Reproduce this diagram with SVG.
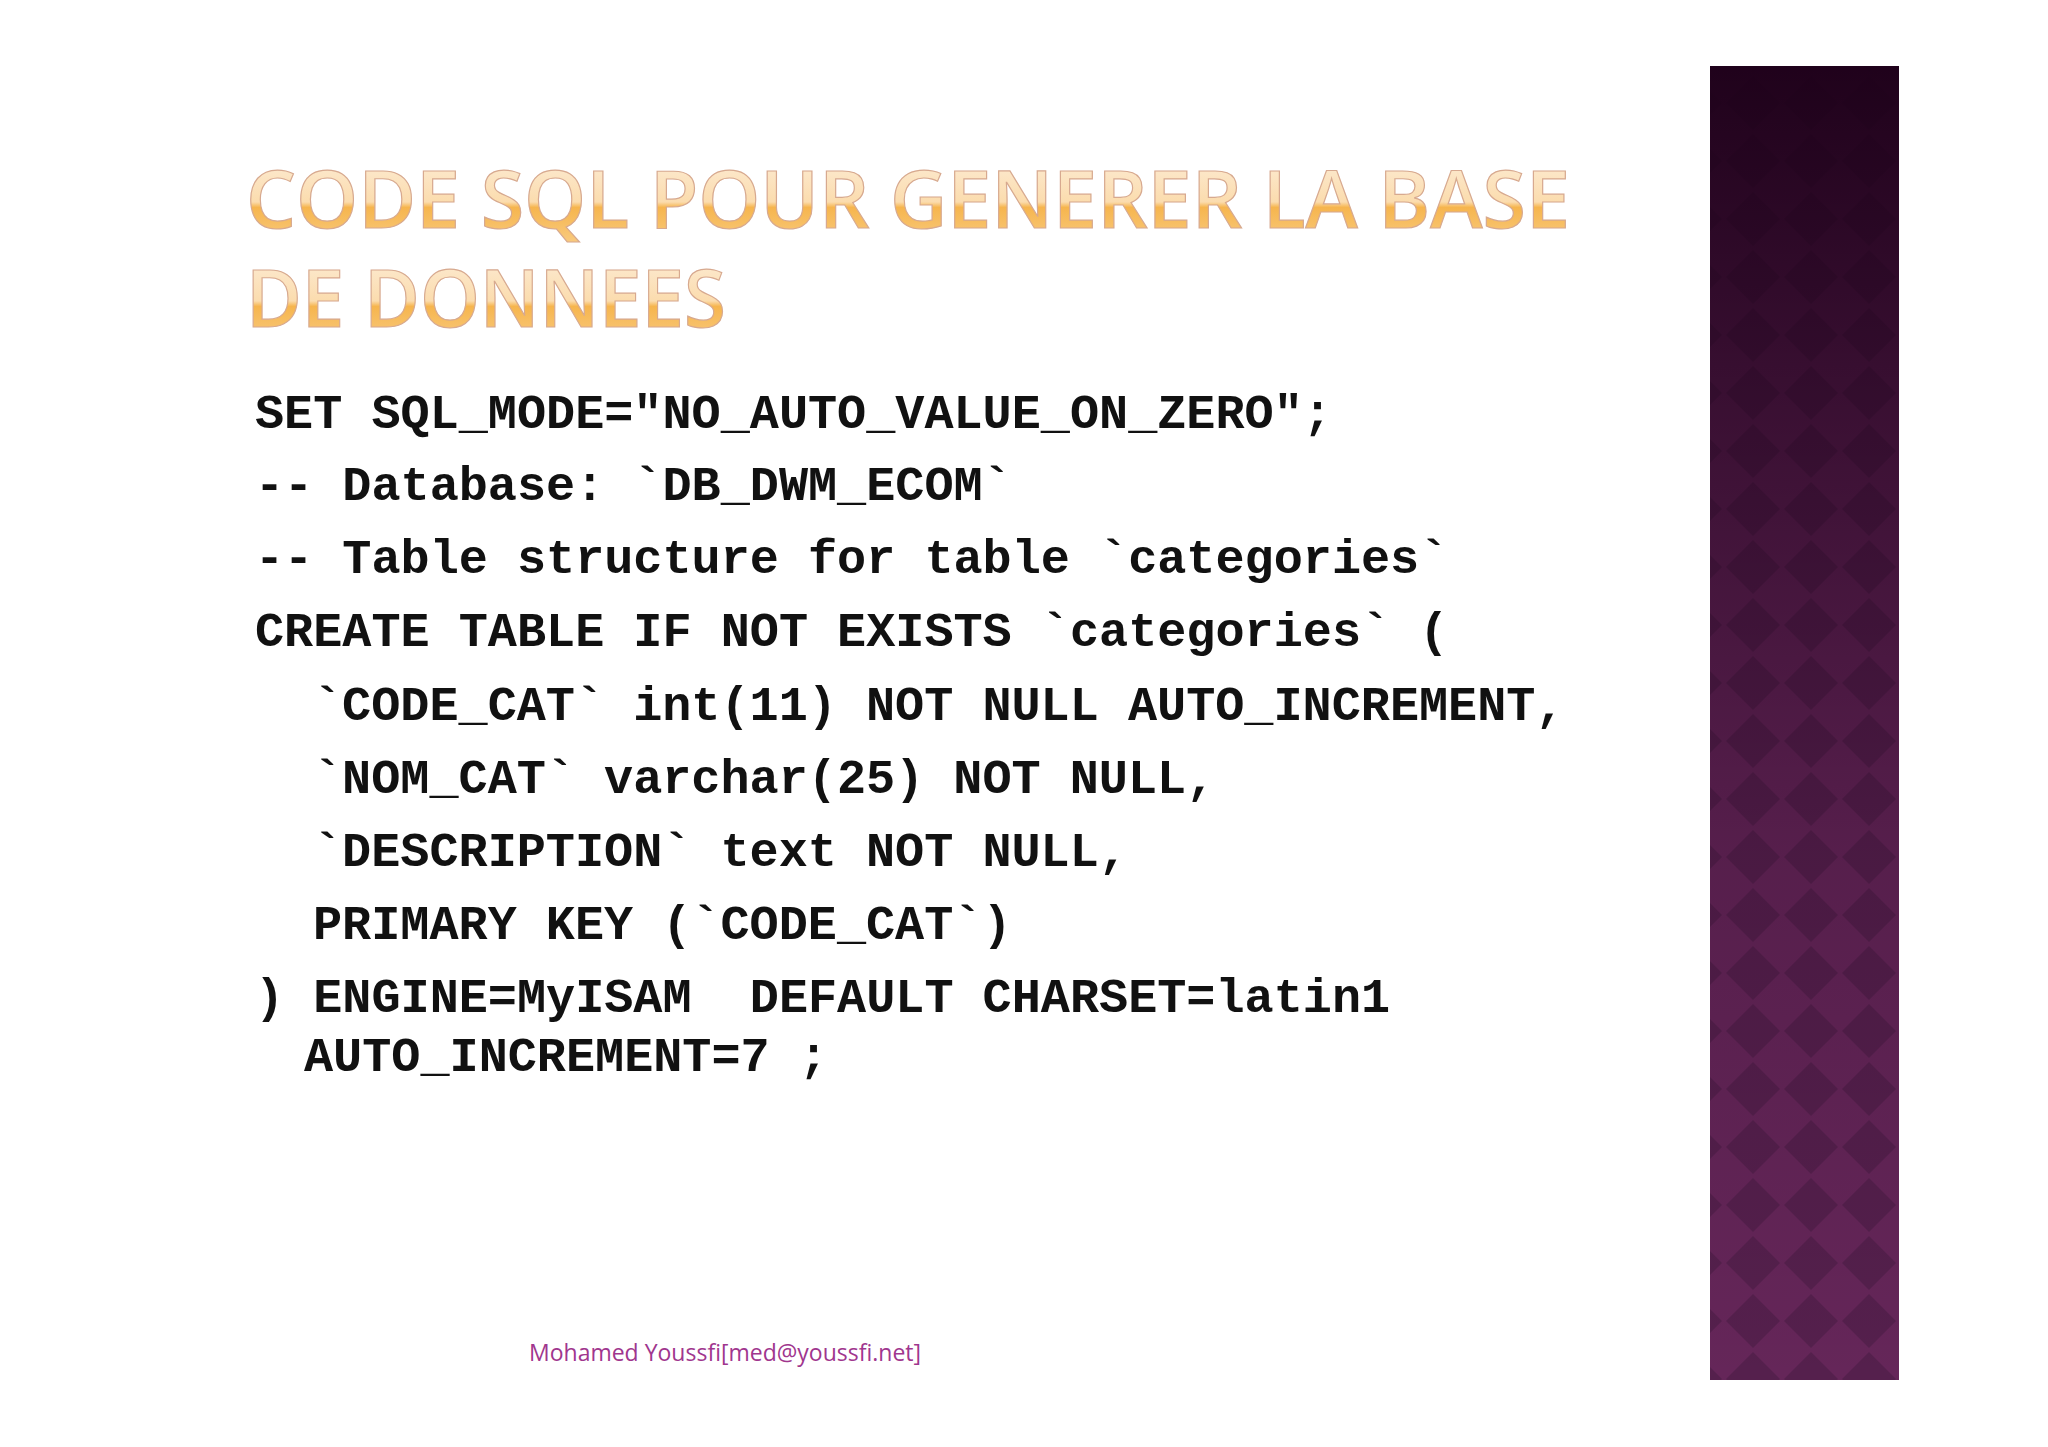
<svg xmlns="http://www.w3.org/2000/svg" width="2048" height="1447" viewBox="0 0 2048 1447">
<defs>
<linearGradient id="tg" x1="0" y1="0" x2="0" y2="1">
<stop offset="0" stop-color="#fdf0df"/><stop offset="0.55" stop-color="#fbdcae"/><stop offset="0.6" stop-color="#f6b54e"/><stop offset="1" stop-color="#f9cf8a"/>
</linearGradient>
<pattern id="dia" x="1724" y="1176" width="58" height="58" patternUnits="userSpaceOnUse">
<rect width="58" height="58" fill="#652659"/>
<polygon points="29,2 56,29 29,56 2,29" fill="#55204d"/>
</pattern>
<linearGradient id="shade" x1="0" y1="0" x2="0" y2="1">
<stop offset="0" stop-color="#1c0018" stop-opacity="0.95"/><stop offset="0.25" stop-color="#1c0018" stop-opacity="0.6"/><stop offset="0.6" stop-color="#1c0018" stop-opacity="0.2"/><stop offset="1" stop-color="#1c0018" stop-opacity="0"/>
</linearGradient>
<style>
.t{font-family:"Open Sans","Liberation Sans",sans-serif;font-weight:600;font-size:80px;fill:url(#tg);stroke:#d7a98f;stroke-width:1.2}
.c{font-family:"Liberation Mono","DejaVu Sans Mono",monospace;font-weight:bold;font-size:48.5px;fill:#111;white-space:pre}
</style>
</defs>
<rect width="2048" height="1447" fill="#ffffff"/>
<g id="bar">
<rect x="1710" y="66" width="189" height="1314" fill="url(#dia)"/>
<rect x="1710" y="66" width="189" height="1314" fill="url(#shade)"/>
</g>
<g id="title">
<text class="t" x="246" y="228" textLength="1324" lengthAdjust="spacingAndGlyphs">CODE SQL POUR GENERER LA BASE</text>
<text class="t" x="246" y="327" textLength="480" lengthAdjust="spacingAndGlyphs">DE DONNEES</text>
</g>
<g id="code">
<text class="c" x="255" y="428">SET SQL_MODE="NO_AUTO_VALUE_ON_ZERO";</text>
<text class="c" x="255" y="500">-- Database: `DB_DWM_ECOM`</text>
<text class="c" x="255" y="573">-- Table structure for table `categories`</text>
<text class="c" x="255" y="646">CREATE TABLE IF NOT EXISTS `categories` (</text>
<text class="c" x="313" y="720">`CODE_CAT` int(11) NOT NULL AUTO_INCREMENT,</text>
<text class="c" x="313" y="793">`NOM_CAT` varchar(25) NOT NULL,</text>
<text class="c" x="313" y="866">`DESCRIPTION` text NOT NULL,</text>
<text class="c" x="313" y="939">PRIMARY KEY (`CODE_CAT`)</text>
<text class="c" x="255" y="1012">) ENGINE=MyISAM  DEFAULT CHARSET=latin1</text>
<text class="c" x="304" y="1071">AUTO_INCREMENT=7 ;</text>
</g>
<g id="footer">
<text x="529" y="1361" font-family="Open Sans, Liberation Sans, sans-serif" font-size="23" fill="#a0368e">Mohamed Youssfi[med@youssfi.net]</text>
</g>
</svg>
